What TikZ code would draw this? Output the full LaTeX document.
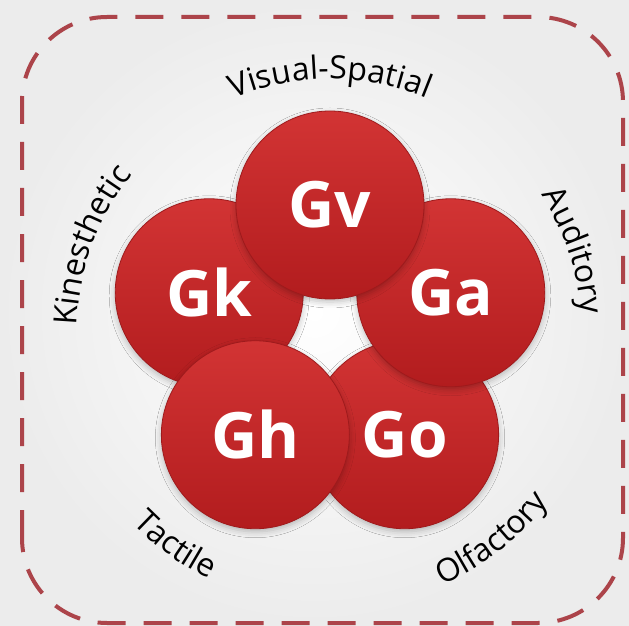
\documentclass[tikz,border=0pt]{standalone}
\usepackage{fontspec}
\setmainfont{Open Sans}
\usepackage{tikz}
\usetikzlibrary{calc}
\usetikzlibrary{shadows.blur}
\usetikzlibrary{decorations.text}
\usepackage{xcolor}
\definecolor{balltop}{RGB}{210,52,52}
\definecolor{ballbot}{RGB}{178,28,30}
\definecolor{ballrim}{RGB}{158,26,28}
\definecolor{dashred}{RGB}{172,68,74}
\definecolor{labelgray}{RGB}{50,45,48}
\definecolor{bgedge}{RGB}{236,236,236}
\newcommand{\arcfont}{\fontsize{32}{32}\selectfont}

\begin{document}
\begin{tikzpicture}[x=1pt,y=1pt,
  ball/.style={circle, minimum size=188pt, inner sep=0pt, top color=balltop, bottom color=ballbot,
    draw=ballrim, line width=0.8pt,
    blur shadow={shadow xshift=0pt, shadow yshift=-3pt, shadow blur radius=6pt, shadow opacity=25},
    text=white, font=\fontsize{64}{64}\selectfont\bfseries},
  arclabel/.style={labelgray, decorate, decoration={text along path, text align=center}}]
\useasboundingbox (0,0) rectangle (629,625);
\fill[inner color=white, outer color=bgedge] (0,0) rectangle (629,625);
\draw[dashred, line width=4pt, dash pattern=on 28pt off 18pt, rounded corners=85pt] (22,2) rectangle (623,608);
\coordinate (c) at (330,293);
\node[ball] (go) at ($(c)+(306:127)$) {Go};
\node[ball] (gk) at ($(c)+(162:127)$) {Gk};
\node[ball] (ga) at ($(c)+(18:127)$) {Ga};
\node[ball] (gv) at ($(c)+(90:127)$) {Gv};
\node[ball] (gh) at ($(c)+(234:127)$) {Gh};
\path[arclabel, decoration={text={|\arcfont|Visual-Spatial}}] ($(c)+(140:253)$) arc[start angle=140, end angle=40, radius=253];
\path[arclabel, decoration={text={|\arcfont|Kinesthetic}}] ($(c)+(205:253)$) arc[start angle=205, end angle=115, radius=253];
\path[arclabel, decoration={text={|\arcfont|Auditory}}] ($(c)+(60:252)$) arc[start angle=60, end angle=-23, radius=252];
\path[arclabel, decoration={text={|\arcfont|Tactile}}] ($(c)+(200:275)$) arc[start angle=200, end angle=268, radius=275];
\path[arclabel, decoration={text={|\arcfont|Olfactory}}] ($(c)+(270:277)$) arc[start angle=270, end angle=346, radius=277];
\end{tikzpicture}
\end{document}
